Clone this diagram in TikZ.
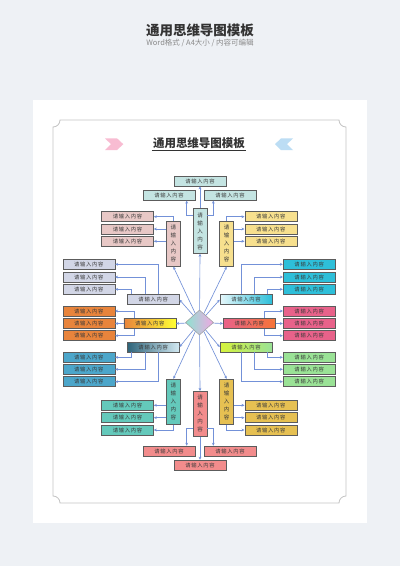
\documentclass[tikz,border=0pt]{standalone}
\usepackage{fontspec}
\newfontfamily\cjk{Noto Sans CJK SC}
\newfontfamily\cjkbox[LetterSpace=14]{Noto Sans CJK SC}
\usetikzlibrary{shapes.geometric, arrows.meta}

\definecolor{bgc}{HTML}{EEF1F5}
\definecolor{framec}{HTML}{C4C4C4}
\definecolor{linkc}{HTML}{7391D8}
\definecolor{boxline}{HTML}{5C5C5C}
\definecolor{txt}{HTML}{3A3A3A}
\definecolor{head}{HTML}{333333}
\definecolor{subc}{HTML}{8A8A8A}
\definecolor{pinkc}{HTML}{F8BCD2}
\definecolor{bluec}{HTML}{BCDDF4}
\definecolor{topc}{HTML}{C4E4E2}
\definecolor{tlc}{HTML}{E8C8C6}
\definecolor{trc}{HTML}{F7E08E}
\definecolor{ltc}{HTML}{D2D6E6}
\definecolor{lmc}{HTML}{E8843C}
\definecolor{lbc}{HTML}{4CA6CA}
\definecolor{rtc}{HTML}{2EBFD9}
\definecolor{rmc}{HTML}{E8628A}
\definecolor{rbc}{HTML}{9AE296}
\definecolor{blc}{HTML}{64C9BB}
\definecolor{brc}{HTML}{E6C052}
\definecolor{btc}{HTML}{F28C8C}
\definecolor{diaL}{HTML}{8EE2D0}
\definecolor{diaR}{HTML}{F0A8E2}

\begin{document}
\begin{tikzpicture}[x=1pt, y=-1pt,
    hbox/.style={draw=boxline, line width=0.6pt, minimum width=52pt, minimum height=10pt, inner sep=0pt, font=\cjkbox\fontsize{5.3}{6}\selectfont, text=txt},
    vbox/.style={draw=boxline, line width=0.6pt, minimum width=14pt, minimum height=45pt, inner sep=0pt, align=center, font=\cjk\fontsize{5.5}{8}\selectfont, text=txt},
    link/.style={draw=linkc, line width=0.65pt, -{Stealth[length=3pt,width=2.8pt]}}]
    \useasboundingbox (0,0) rectangle (400,566);

    % Page
    \fill[bgc] (0,0) rectangle (400,566);
    \fill[white] (33,100) rectangle (367,523);
    \draw[framec, line width=0.8pt]
        (60,120) -- (339,120) .. controls (339,123.9) and (342.1,127) .. (346,127)
        -- (346,496) .. controls (342.1,496) and (339,499.1) .. (339,503)
        -- (60,503) .. controls (60,499.1) and (56.9,496) .. (53,496)
        -- (53,127) .. controls (56.9,127) and (60,123.9) .. (60,120) -- cycle;

    % Header
    \node[font=\cjk\bfseries\fontsize{13.5}{15}\selectfont, text=head] (head) at (200,30) {通用思维导图模板};
    \node[font=\cjk\fontsize{7.5}{9}\selectfont, text=subc] (sub) at (200,43) {Word格式 / A4大小 / 内容可编辑};

    % Title
    \node[font=\cjk\bfseries\fontsize{11.5}{13}\selectfont, text=head, inner sep=1pt] (title) at (199,143) {通用思维导图模板};
    \draw[head, line width=0.9pt] ([yshift=-1pt]title.south west) -- ([yshift=-1pt]title.south east);
    \fill[pinkc] (105,138.3) -- (117,138.3) -- (123.3,144.2) -- (117,150) -- (105,150) -- (111,144.2) -- cycle;
    \fill[bluec] (293,138.3) -- (281,138.3) -- (275,144.2) -- (281,150) -- (293,150) -- (287,144.2) -- cycle;

    % Centre
    \node[diamond, draw=boxline!60, line width=0.5pt, minimum width=28pt, minimum height=25pt, inner sep=0pt,
          left color=diaL, middle color=white, right color=diaR] (dia) at (199.5,322.5) {};

    % Top
    \node[vbox, fill=topc] (T0) at (200,231) {请\\输\\入\\内\\容};
    \node[hbox, fill=topc] (T1) at (200,181) {请输入内容};
    \node[hbox, fill=topc] (T2) at (169,195.3) {请输入内容};
    \node[hbox, fill=topc] (T3) at (230,195.3) {请输入内容};

    % Top left
    \node[vbox, fill=tlc] (TL0) at (173.3,243.8) {请\\输\\入\\内\\容};
    \node[hbox, fill=tlc] (TL1) at (127.5,216.7) {请输入内容};
    \node[hbox, fill=tlc] (TL2) at (127.5,229) {请输入内容};
    \node[hbox, fill=tlc] (TL3) at (127.5,241.3) {请输入内容};

    % Top right
    \node[vbox, fill=trc] (TR0) at (226.7,243.8) {请\\输\\入\\内\\容};
    \node[hbox, fill=trc] (TR1) at (270.8,216.7) {请输入内容};
    \node[hbox, fill=trc] (TR2) at (270.8,229) {请输入内容};
    \node[hbox, fill=trc] (TR3) at (270.8,241.3) {请输入内容};

    % Left
    \node[hbox, fill=ltc] (LT0) at (153.2,299.7) {请输入内容};
    \node[hbox, fill=ltc] (LT1) at (88.8,264.3) {请输入内容};
    \node[hbox, fill=ltc] (LT2) at (88.8,277) {请输入内容};
    \node[hbox, fill=ltc] (LT3) at (88.8,289.3) {请输入内容};
    \node[hbox, left color=lmc, right color=yellow!80!white] (LM0) at (149.8,323.5) {请输入内容};
    \node[hbox, fill=lmc] (LM1) at (88.8,311) {请输入内容};
    \node[hbox, fill=lmc] (LM2) at (88.8,323.5) {请输入内容};
    \node[hbox, fill=lmc] (LM3) at (88.8,335.7) {请输入内容};
    \node[hbox, left color=lbc!60!black, right color=lbc!25!white] (LB0) at (153.2,347) {请输入内容};
    \node[hbox, fill=lbc] (LB1) at (88.8,357.3) {请输入内容};
    \node[hbox, fill=lbc] (LB2) at (88.8,369.3) {请输入内容};
    \node[hbox, fill=lbc] (LB3) at (88.8,381.7) {请输入内容};

    % Right
    \node[hbox, left color=rtc!12!white, right color=rtc] (RT0) at (246,299.7) {请输入内容};
    \node[hbox, fill=rtc] (RT1) at (309.2,264.3) {请输入内容};
    \node[hbox, fill=rtc] (RT2) at (309.2,277) {请输入内容};
    \node[hbox, fill=rtc] (RT3) at (309.2,289.3) {请输入内容};
    \node[hbox, left color=rmc, right color=orange!60!rmc] (RM0) at (249.3,323.5) {请输入内容};
    \node[hbox, fill=rmc] (RM1) at (309.2,311) {请输入内容};
    \node[hbox, fill=rmc] (RM2) at (309.2,323.5) {请输入内容};
    \node[hbox, fill=rmc] (RM3) at (309.2,335.7) {请输入内容};
    \node[hbox, left color=yellow!60!rbc, right color=rbc] (RB0) at (246,347) {请输入内容};
    \node[hbox, fill=rbc] (RB1) at (309.2,357.3) {请输入内容};
    \node[hbox, fill=rbc] (RB2) at (309.2,369.3) {请输入内容};
    \node[hbox, fill=rbc] (RB3) at (309.2,381.7) {请输入内容};

    % Bottom left
    \node[vbox, fill=blc] (BL0) at (173.3,401.7) {请\\输\\入\\内\\容};
    \node[hbox, fill=blc] (BL1) at (127.5,405.3) {请输入内容};
    \node[hbox, fill=blc] (BL2) at (127.5,417.7) {请输入内容};
    \node[hbox, fill=blc] (BL3) at (127.5,430) {请输入内容};

    % Bottom right
    \node[vbox, fill=brc] (BR0) at (226.7,401.7) {请\\输\\入\\内\\容};
    \node[hbox, fill=brc] (BR1) at (270.8,405.3) {请输入内容};
    \node[hbox, fill=brc] (BR2) at (270.8,417.7) {请输入内容};
    \node[hbox, fill=brc] (BR3) at (270.8,430) {请输入内容};

    % Bottom
    \node[vbox, fill=btc] (B0) at (200,413.7) {请\\输\\入\\内\\容};
    \node[hbox, fill=btc] (B1) at (169,451) {请输入内容};
    \node[hbox, fill=btc] (B2) at (230,451) {请输入内容};
    \node[hbox, fill=btc] (B3) at (200,465) {请输入内容};

    % Spokes
    \draw[link] (dia) -- (T0.south);
    \draw[link] (dia) -- (TL0.south);
    \draw[link] (dia) -- (TR0.south);
    \draw[link] (dia) -- (LT0.east);
    \draw[link] (dia) -- (LM0.east);
    \draw[link] (dia) -- (LB0.east);
    \draw[link] (dia) -- (RT0.west);
    \draw[link] (dia) -- (RM0.west);
    \draw[link] (dia) -- (RB0.west);
    \draw[link] (dia) -- (BL0.north);
    \draw[link] (dia) -- (BR0.north);
    \draw[link] (dia) -- (B0.north);

    % Edges
    \draw[link] (T0.north) -- (T1.south);
    \draw[link] ([yshift=-7pt]T0.north west) -| ([xshift=17.7pt]T2.south);
    \draw[link] ([yshift=-7pt]T0.north east) -| ([xshift=-16.7pt]T3.south);

    \draw[link] (TL0.north) |- (TL1.east);
    \draw[link] (TL0.west |- TL2.east) -- (TL2.east);
    \draw[link] (TL0.west |- TL3.east) -- (TL3.east);

    \draw[link] (TR0.north) |- (TR1.west);
    \draw[link] (TR0.east |- TR2.west) -- (TR2.west);
    \draw[link] (TR0.east |- TR3.west) -- (TR3.west);

    \draw[link] ([xshift=5pt]LT0.north) |- (LT1.east);
    \draw[link] ([xshift=-8pt]LT0.north) |- (LT2.east);
    \draw[link] ([xshift=-21.5pt]LT0.north) |- (LT3.east);
    \draw[link] ([xshift=-15pt]LM0.north) |- (LM1.east);
    \draw[link] (LM0.west) -- (LM2.east);
    \draw[link] ([xshift=-15pt]LM0.south) |- (LM3.east);
    \draw[link] ([xshift=-21.5pt]LB0.south) |- (LB1.east);
    \draw[link] ([xshift=-8pt]LB0.south) |- (LB2.east);
    \draw[link] ([xshift=5pt]LB0.south) |- (LB3.east);

    \draw[link] ([xshift=-5pt]RT0.north) |- (RT1.west);
    \draw[link] ([xshift=8pt]RT0.north) |- (RT2.west);
    \draw[link] ([xshift=21.5pt]RT0.north) |- (RT3.west);
    \draw[link] ([xshift=15pt]RM0.north) |- (RM1.west);
    \draw[link] (RM0.east) -- (RM2.west);
    \draw[link] ([xshift=15pt]RM0.south) |- (RM3.west);
    \draw[link] ([xshift=21.5pt]RB0.south) |- (RB1.west);
    \draw[link] ([xshift=8pt]RB0.south) |- (RB2.west);
    \draw[link] ([xshift=-5pt]RB0.south) |- (RB3.west);

    \draw[link] (BL0.west |- BL1.east) -- (BL1.east);
    \draw[link] (BL0.west |- BL2.east) -- (BL2.east);
    \draw[link] (BL0.south) |- (BL3.east);

    \draw[link] (BR0.east |- BR1.west) -- (BR1.west);
    \draw[link] (BR0.east |- BR2.west) -- (BR2.west);
    \draw[link] (BR0.south) |- (BR3.west);

    \draw[link] ([yshift=8pt]B0.south west) -| ([xshift=17.7pt]B1.north);
    \draw[link] ([yshift=8pt]B0.south east) -| ([xshift=-16.7pt]B2.north);
    \draw[link] (B0.south) -- (B3.north);
\end{tikzpicture}
\end{document}
